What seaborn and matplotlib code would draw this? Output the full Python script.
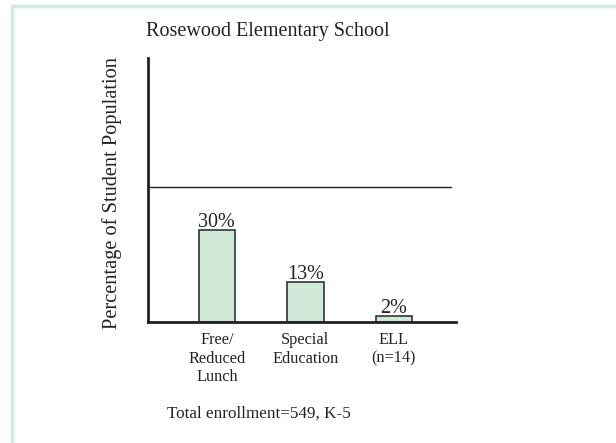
import matplotlib
matplotlib.use("Agg")
import matplotlib.pyplot as plt
import seaborn as sns
import pandas as pd
from matplotlib.lines import Line2D

categories = ["Free/\nReduced\nLunch", "Special\nEducation", "ELL\n(n=14)"]
values = [30, 13, 2]
value_labels = ["30%", "13%", "2%"]
reference_level = 44
title = "Rosewood Elementary School"
ylabel = "Percentage of Student Population"
footnote = "Total enrollment=549, K-5"

sns.set_theme(style="white")
plt.rcParams['font.family'] = ['Liberation Serif', 'DejaVu Serif']

df = pd.DataFrame({"cat": categories, "val": values})

fig = plt.figure(figsize=(6.16, 4.43), dpi=100)
ax = fig.add_axes([0.240, 0.273, 0.500, 0.596])

sns.barplot(data=df, x="cat", y="val", ax=ax, color="#cfe8d7", width=0.41,
            edgecolor="#333333", linewidth=1.2, saturation=1)

for i, (v, lab) in enumerate(zip(values, value_labels)):
    ax.text(i, v + 1.0, lab, ha="center", va="baseline", fontsize=14.5, color="#222222")

ax.axhline(reference_level, color="#222222", lw=1.0, xmin=0, xmax=0.985)

ax.set_xlim(-0.78, 2.70)
ax.set_ylim(0, 86)
ax.set_yticks([])
ax.set_xlabel("")
ax.set_ylabel(ylabel, fontsize=14.7, color="#222222")
ax.yaxis.set_label_coords(-0.085, 0.49)
ax.tick_params(axis="x", length=0, pad=7.5, labelsize=11.7, colors="#222222")
for lbl in ax.get_xticklabels():
    lbl.set_linespacing(1.2)

for s in ["top", "right"]:
    ax.spines[s].set_visible(False)
ax.spines["left"].set_color("#222222")
ax.spines["left"].set_linewidth(2)
ax.spines["bottom"].set_color("#222222")
ax.spines["bottom"].set_linewidth(2)

fig.text(0.434, 0.930, title, ha="center", va="center", fontsize=14.5, color="#222222")
fig.text(0.420, 0.066, footnote, ha="center", va="center", fontsize=12.3, color="#222222")

# light green frame (top and left edges visible)
fig.add_artist(Line2D([11.5/616, 1], [1 - 5.5/443, 1 - 5.5/443], transform=fig.transFigure,
                      color="#d0ecdc", lw=2.5))
fig.add_artist(Line2D([11.5/616, 11.5/616], [0, 1 - 5.5/443], transform=fig.transFigure,
                      color="#d0ecdc", lw=2.5))

fig.savefig("out.png", dpi=100)
